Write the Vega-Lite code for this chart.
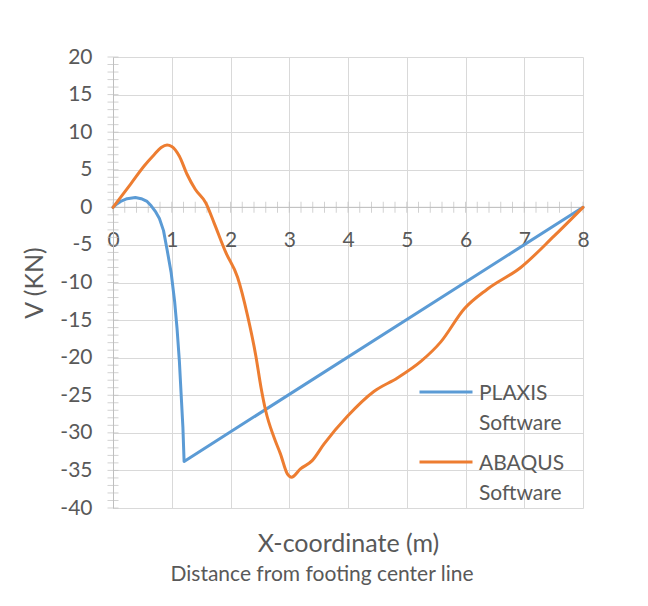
{
  "$schema": "https://vega.github.io/schema/vega-lite/v6.json",
  "width": 470,
  "height": 451,
  "autosize": {"type": "none"},
  "padding": {"left": 113, "top": 57, "right": 65, "bottom": 98},
  "background": "white",
  "config": {"font": "Lato", "view": {"stroke": null}},
  "title": {
    "text": "Distance from footing center line",
    "orient": "bottom",
    "anchor": "middle",
    "fontSize": 21,
    "fontWeight": "normal",
    "color": "#595959",
    "dx": -26,
    "offset": 8
  },
  "datasets": {
    "curves": [
      {"x": 0, "v": 0, "s": "PLAXIS Software"},
      {"x": 0.06, "v": 0.42, "s": "PLAXIS Software"},
      {"x": 0.13, "v": 0.79, "s": "PLAXIS Software"},
      {"x": 0.24, "v": 1.15, "s": "PLAXIS Software"},
      {"x": 0.38, "v": 1.32, "s": "PLAXIS Software"},
      {"x": 0.48, "v": 1.15, "s": "PLAXIS Software"},
      {"x": 0.58, "v": 0.79, "s": "PLAXIS Software"},
      {"x": 0.65, "v": 0.2, "s": "PLAXIS Software"},
      {"x": 0.72, "v": -0.53, "s": "PLAXIS Software"},
      {"x": 0.79, "v": -1.5, "s": "PLAXIS Software"},
      {"x": 0.86, "v": -3.1, "s": "PLAXIS Software"},
      {"x": 0.92, "v": -5.6, "s": "PLAXIS Software"},
      {"x": 0.99, "v": -8.7, "s": "PLAXIS Software"},
      {"x": 1.05, "v": -12.6, "s": "PLAXIS Software"},
      {"x": 1.09, "v": -16.1, "s": "PLAXIS Software"},
      {"x": 1.13, "v": -20.5, "s": "PLAXIS Software"},
      {"x": 1.16, "v": -24.9, "s": "PLAXIS Software"},
      {"x": 1.19, "v": -29.3, "s": "PLAXIS Software"},
      {"x": 1.21, "v": -33.8, "s": "PLAXIS Software"},
      {"x": 8, "v": 0, "s": "PLAXIS Software"},
      {"x": 0, "v": 0, "s": "ABAQUS Software"},
      {"x": 0.3, "v": 3.1, "s": "ABAQUS Software"},
      {"x": 0.53, "v": 5.5, "s": "ABAQUS Software"},
      {"x": 0.7, "v": 7.0, "s": "ABAQUS Software"},
      {"x": 0.82, "v": 7.95, "s": "ABAQUS Software"},
      {"x": 0.92, "v": 8.3, "s": "ABAQUS Software"},
      {"x": 1.0, "v": 8.1, "s": "ABAQUS Software"},
      {"x": 1.13, "v": 6.8, "s": "ABAQUS Software"},
      {"x": 1.26, "v": 4.4, "s": "ABAQUS Software"},
      {"x": 1.4, "v": 2.4, "s": "ABAQUS Software"},
      {"x": 1.58, "v": 0.58, "s": "ABAQUS Software"},
      {"x": 1.72, "v": -2.06, "s": "ABAQUS Software"},
      {"x": 1.92, "v": -6.0, "s": "ABAQUS Software"},
      {"x": 2.12, "v": -9.3, "s": "ABAQUS Software"},
      {"x": 2.29, "v": -14.4, "s": "ABAQUS Software"},
      {"x": 2.43, "v": -19.7, "s": "ABAQUS Software"},
      {"x": 2.52, "v": -24.0, "s": "ABAQUS Software"},
      {"x": 2.6, "v": -27.1, "s": "ABAQUS Software"},
      {"x": 2.74, "v": -30.6, "s": "ABAQUS Software"},
      {"x": 2.85, "v": -32.8, "s": "ABAQUS Software"},
      {"x": 2.97, "v": -35.5, "s": "ABAQUS Software"},
      {"x": 3.04, "v": -35.9, "s": "ABAQUS Software"},
      {"x": 3.19, "v": -34.8, "s": "ABAQUS Software"},
      {"x": 3.39, "v": -33.7, "s": "ABAQUS Software"},
      {"x": 3.59, "v": -31.5, "s": "ABAQUS Software"},
      {"x": 3.99, "v": -27.8, "s": "ABAQUS Software"},
      {"x": 4.44, "v": -24.5, "s": "ABAQUS Software"},
      {"x": 4.84, "v": -22.7, "s": "ABAQUS Software"},
      {"x": 5.24, "v": -20.5, "s": "ABAQUS Software"},
      {"x": 5.58, "v": -17.9, "s": "ABAQUS Software"},
      {"x": 5.98, "v": -13.5, "s": "ABAQUS Software"},
      {"x": 6.37, "v": -10.9, "s": "ABAQUS Software"},
      {"x": 6.94, "v": -8.0, "s": "ABAQUS Software"},
      {"x": 7.51, "v": -3.8, "s": "ABAQUS Software"},
      {"x": 8, "v": 0, "s": "ABAQUS Software"}
    ],
    "xt": [
      {"x": 0}, {"x": 0.2}, {"x": 0.4}, {"x": 0.6}, {"x": 0.8},
      {"x": 1}, {"x": 1.2}, {"x": 1.4}, {"x": 1.6}, {"x": 1.8},
      {"x": 2}, {"x": 2.2}, {"x": 2.4}, {"x": 2.6}, {"x": 2.8},
      {"x": 3}, {"x": 3.2}, {"x": 3.4}, {"x": 3.6}, {"x": 3.8},
      {"x": 4}, {"x": 4.2}, {"x": 4.4}, {"x": 4.6}, {"x": 4.8},
      {"x": 5}, {"x": 5.2}, {"x": 5.4}, {"x": 5.6}, {"x": 5.8},
      {"x": 6}, {"x": 6.2}, {"x": 6.4}, {"x": 6.6}, {"x": 6.8},
      {"x": 7}, {"x": 7.2}, {"x": 7.4}, {"x": 7.6}, {"x": 7.8},
      {"x": 8}
    ],
    "yt": [
      {"v": -40}, {"v": -39}, {"v": -38}, {"v": -37}, {"v": -36}, {"v": -35}, {"v": -34}, {"v": -33}, {"v": -32}, {"v": -31},
      {"v": -30}, {"v": -29}, {"v": -28}, {"v": -27}, {"v": -26}, {"v": -25}, {"v": -24}, {"v": -23}, {"v": -22}, {"v": -21},
      {"v": -20}, {"v": -19}, {"v": -18}, {"v": -17}, {"v": -16}, {"v": -15}, {"v": -14}, {"v": -13}, {"v": -12}, {"v": -11},
      {"v": -10}, {"v": -9}, {"v": -8}, {"v": -7}, {"v": -6}, {"v": -5}, {"v": -4}, {"v": -3}, {"v": -2}, {"v": -1},
      {"v": 0}, {"v": 1}, {"v": 2}, {"v": 3}, {"v": 4}, {"v": 5}, {"v": 6}, {"v": 7}, {"v": 8}, {"v": 9},
      {"v": 10}, {"v": 11}, {"v": 12}, {"v": 13}, {"v": 14}, {"v": 15}, {"v": 16}, {"v": 17}, {"v": 18}, {"v": 19},
      {"v": 20}
    ]
  },
  "layer": [
    {
      "data": {"name": "xt"},
      "mark": {"type": "tick", "orient": "vertical", "size": 11, "thickness": 1, "color": "#bfbfbf"},
      "encoding": {
        "x": {
          "field": "x", "type": "quantitative",
          "scale": {"domain": [0, 8], "nice": false, "zero": false},
          "axis": {
            "orient": "bottom", "offset": -300.67,
            "values": [0, 1, 2, 3, 4, 5, 6, 7, 8], "format": "d", "tickCount": 20,
            "domain": false, "ticks": false,
            "grid": true, "gridColor": "#d9d9d9", "gridWidth": 1,
            "labelFontSize": 21, "labelColor": "#595959", "labelPadding": 22,
            "labelFlush": false, "labelOverlap": false,
            "title": "X-coordinate (m)", "titleFontSize": 25, "titleFontWeight": "normal",
            "titleColor": "#595959", "titleY": 344, "titleBaseline": "alphabetic"
          }
        },
        "y": {
          "datum": 0, "type": "quantitative",
          "scale": {"domain": [-40, 20], "nice": false, "zero": false},
          "axis": {
            "values": [-40, -35, -30, -25, -20, -15, -10, -5, 0, 5, 10, 15, 20], "format": "d", "tickCount": 20,
            "labelExpr": "replace(datum.label, '\u2212', '-')",
            "domain": true, "domainColor": "#bfbfbf", "ticks": false,
            "grid": true, "gridColor": "#d9d9d9", "gridWidth": 1,
            "labelFontSize": 21, "labelColor": "#595959", "labelPadding": 21,
            "labelFlush": false, "labelOverlap": false,
            "title": "V (KN)", "titleFontSize": 25, "titleFontWeight": "normal",
            "titleColor": "#595959", "titlePadding": 12
          }
        }
      }
    },
    {
      "data": {"name": "yt"},
      "mark": {"type": "tick", "orient": "horizontal", "size": 11, "thickness": 1, "color": "#bfbfbf"},
      "encoding": {
        "y": {"field": "v", "type": "quantitative"},
        "x": {"datum": 0, "type": "quantitative"}
      }
    },
    {
      "data": {"name": "xt"},
      "transform": [{"filter": "datum.x === 0"}],
      "mark": {"type": "rule", "color": "#bfbfbf", "strokeWidth": 1},
      "encoding": {"y": {"datum": 0, "type": "quantitative"}}
    },
    {
      "data": {"name": "curves"},
      "mark": {"type": "line", "strokeWidth": 3, "strokeCap": "round", "strokeJoin": "round"},
      "encoding": {
        "x": {"field": "x", "type": "quantitative"},
        "y": {"field": "v", "type": "quantitative"},
        "color": {
          "field": "s", "type": "nominal",
          "scale": {"domain": ["PLAXIS Software", "ABAQUS Software"], "range": ["#5B9BD5", "#ED7D31"]},
          "legend": {
            "orient": "none", "legendX": 305, "legendY": 307, "title": null,
            "symbolType": "stroke", "symbolStrokeWidth": 3, "symbolSize": 2809,
            "labelFontSize": 21, "labelColor": "#595959", "labelOffset": 5,
            "labelExpr": "split(datum.label, ' ')", "labelBaseline": "alphabetic",
            "labelLimit": 0, "rowPadding": -30, "padding": 0,
            "encode": {"labels": {"update": {"lineHeight": {"value": 30}, "dy": {"value": 8}}}}
          }
        },
        "opacity": {"value": 0}
      }
    },
    {
      "data": {"name": "curves"},
      "transform": [{"filter": "datum.s === 'PLAXIS Software'"}],
      "mark": {"type": "line", "strokeWidth": 3, "interpolate": "linear", "strokeCap": "round", "strokeJoin": "round", "color": "#5B9BD5"},
      "encoding": {
        "x": {"field": "x", "type": "quantitative"},
        "y": {"field": "v", "type": "quantitative"}
      }
    },
    {
      "data": {"name": "curves"},
      "transform": [{"filter": "datum.s === 'ABAQUS Software'"}],
      "mark": {"type": "line", "strokeWidth": 3, "interpolate": "monotone", "strokeCap": "round", "strokeJoin": "round", "color": "#ED7D31"},
      "encoding": {
        "x": {"field": "x", "type": "quantitative"},
        "y": {"field": "v", "type": "quantitative"}
      }
    }
  ]
}
